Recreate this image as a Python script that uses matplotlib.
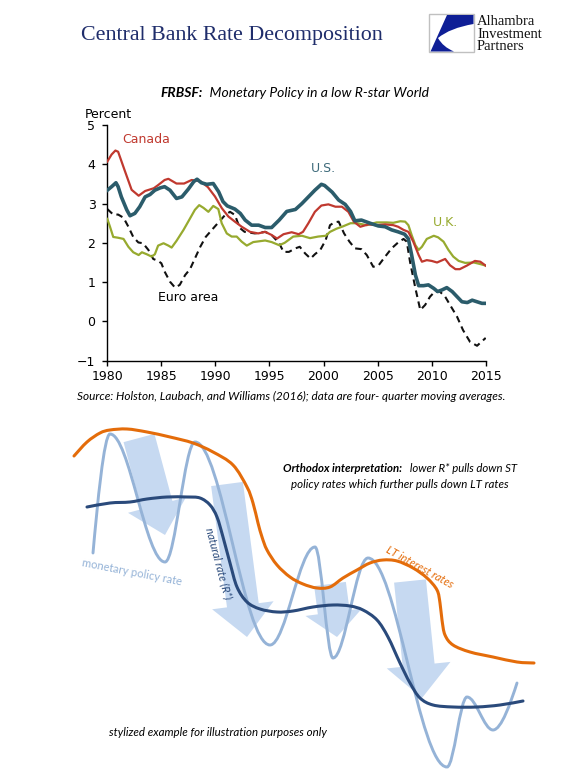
import matplotlib
matplotlib.use("Agg")
import matplotlib.pyplot as plt
from matplotlib.path import Path
from matplotlib.patches import PathPatch, FancyArrow, Rectangle
from matplotlib.offsetbox import TextArea, HPacker, AnnotationBbox

# ---------------- upper chart data (percent) ----------------
us_years = [1980.0, 1980.4, 1980.8, 1981.0, 1981.3, 1981.8, 1982.1, 1982.55, 1983.0, 1983.5,
            1983.95, 1984.4, 1984.9, 1985.3, 1985.8, 1986.4, 1986.9, 1987.5, 1988.0, 1988.3,
            1988.7, 1989.2, 1989.8, 1990.3, 1990.7, 1991.1, 1991.8, 1992.3, 1992.75, 1993.35,
            1994.0, 1994.6, 1995.2, 1995.9, 1996.6, 1997.4, 1998.0, 1998.6, 1999.2, 1999.8,
            2000.1, 2000.8, 2001.4, 2002.0, 2002.5, 2002.9, 2003.5, 2004.3, 2005.07, 2005.7,
            2006.3, 2006.9, 2007.5, 2007.85, 2008.15, 2008.5, 2008.8, 2009.25, 2009.7, 2010.2,
            2010.55, 2010.95, 2011.4, 2011.9, 2012.35, 2012.8, 2013.3, 2013.75, 2014.2, 2014.65,
            2015.0]
us_vals = [3.34, 3.43, 3.53, 3.43, 3.17, 2.84, 2.69, 2.75, 2.92, 3.17,
           3.23, 3.34, 3.40, 3.43, 3.34, 3.13, 3.17, 3.37, 3.56, 3.62,
           3.53, 3.49, 3.51, 3.30, 3.05, 2.94, 2.86, 2.75, 2.58, 2.45,
           2.45, 2.39, 2.39, 2.58, 2.80, 2.85, 3.00, 3.17, 3.34, 3.49,
           3.46, 3.29, 3.09, 2.98, 2.80, 2.56, 2.58, 2.50, 2.43, 2.41,
           2.33, 2.28, 2.22, 2.10, 1.69, 1.18, 0.91, 0.91, 0.93, 0.84,
           0.76, 0.80, 0.86, 0.76, 0.63, 0.50, 0.48, 0.54, 0.50, 0.46,
           0.46]

canada_years = [1980.0, 1980.4, 1980.75, 1981.0, 1981.6, 1982.25, 1982.9, 1983.5, 1984.3, 1984.7,
                1985.3, 1985.65, 1986.4, 1987.1, 1987.8, 1988.6, 1989.3, 1989.96, 1990.6, 1991.2,
                1991.8, 1992.43, 1993.2, 1993.95, 1994.6, 1995.2, 1995.7, 1996.3, 1997.05, 1997.7,
                1998.1, 1998.6, 1999.2, 1999.8, 2000.45, 2001.1, 2001.7, 2002.3, 2002.8, 2003.4,
                2004.15, 2004.9, 2005.7, 2006.45, 2006.9, 2007.4, 2007.85, 2008.3, 2008.8, 2009.1,
                2009.55, 2010.0, 2010.5, 2011.25, 2011.7, 2012.2, 2012.6, 2013.25, 2014.0, 2014.5,
                2015.0]
canada_vals = [4.07, 4.25, 4.35, 4.32, 3.85, 3.35, 3.20, 3.32, 3.39, 3.47,
               3.60, 3.63, 3.51, 3.51, 3.60, 3.57, 3.42, 3.18, 2.88, 2.67,
               2.54, 2.41, 2.28, 2.24, 2.28, 2.20, 2.11, 2.22, 2.27, 2.22,
               2.28, 2.50, 2.79, 2.95, 2.98, 2.92, 2.92, 2.79, 2.54, 2.41,
               2.47, 2.45, 2.47, 2.45, 2.41, 2.33, 2.28, 2.03, 1.69, 1.52,
               1.56, 1.54, 1.50, 1.59, 1.43, 1.33, 1.33, 1.42, 1.54, 1.52,
               1.42]

uk_years = [1980.0, 1980.25, 1980.55, 1981.0, 1981.5, 1981.95, 1982.4, 1982.9, 1983.2, 1983.65,
            1984.1, 1984.4, 1984.7, 1985.2, 1985.65, 1985.95, 1986.4, 1987.05, 1987.65, 1988.1,
            1988.5, 1988.9, 1989.35, 1989.8, 1990.27, 1990.58, 1991.05, 1991.5, 1991.97, 1992.43,
            1992.9, 1993.5, 1994.6, 1995.2, 1995.9, 1996.4, 1997.2, 1998.0, 1998.75, 1999.5,
            2000.2, 2000.6, 2001.2, 2001.8, 2002.5, 2003.1, 2004.0, 2004.9, 2005.85, 2006.45,
            2007.1, 2007.55, 2007.85, 2008.15, 2008.5, 2008.8, 2009.1, 2009.55, 2010.2, 2010.6,
            2011.1, 2011.55, 2012.0, 2012.5, 2013.1, 2013.9, 2014.5, 2015.0]
uk_vals = [2.61, 2.41, 2.15, 2.13, 2.10, 1.90, 1.76, 1.69, 1.76, 1.71,
           1.65, 1.71, 1.93, 1.99, 1.93, 1.88, 2.05, 2.33, 2.62, 2.84,
           2.96, 2.89, 2.79, 2.94, 2.86, 2.50, 2.24, 2.16, 2.16, 2.03,
           1.93, 2.02, 2.06, 2.02, 1.94, 2.00, 2.16, 2.18, 2.12, 2.16,
           2.18, 2.28, 2.36, 2.42, 2.50, 2.50, 2.45, 2.52, 2.52, 2.51,
           2.55, 2.54, 2.45, 2.20, 1.94, 1.82, 1.90, 2.10, 2.18, 2.14,
           2.03, 1.82, 1.65, 1.54, 1.49, 1.50, 1.46, 1.42]

euro_years = [1980.0, 1980.55, 1981.0, 1981.5, 1981.95, 1982.4, 1982.87, 1983.3, 1983.8, 1984.25,
              1984.7, 1985.0, 1985.3, 1985.8, 1986.27, 1986.7, 1987.2, 1987.65, 1988.1, 1988.6,
              1989.1, 1989.96, 1990.9, 1991.35, 1991.8, 1992.25, 1992.7, 1993.65, 1994.6, 1995.2,
              1995.9, 1996.3, 1996.8, 1997.4, 1997.8, 1998.3, 1998.8, 1999.2, 1999.7, 2000.2,
              2000.6, 2001.0, 2001.4, 2001.9, 2002.4, 2002.9, 2003.5, 2004.0, 2004.6, 2005.1,
              2005.7, 2006.3, 2006.9, 2007.4, 2007.7, 2008.0, 2008.5, 2008.95, 2009.4, 2009.85,
              2010.3, 2010.75, 2011.25, 2011.7, 2012.35, 2012.9, 2013.55, 2014.2, 2014.6, 2015.0]
euro_vals = [2.86, 2.72, 2.72, 2.64, 2.41, 2.15, 2.01, 1.99, 1.82, 1.59,
             1.54, 1.48, 1.27, 1.01, 0.86, 0.93, 1.18, 1.33, 1.60, 1.90,
             2.15, 2.42, 2.71, 2.79, 2.71, 2.38, 2.28, 2.24, 2.28, 2.20,
             1.99, 1.77, 1.77, 1.86, 1.90, 1.73, 1.60, 1.71, 1.82, 2.07,
             2.45, 2.52, 2.54, 2.24, 2.03, 1.86, 1.84, 1.69, 1.39, 1.43,
             1.65, 1.86, 2.01, 2.10, 2.03, 1.52, 0.84, 0.29, 0.42, 0.63,
             0.76, 0.76, 0.63, 0.42, 0.12, -0.22, -0.52, -0.62, -0.52, -0.42]

x_ticks = [1980, 1985, 1990, 1995, 2000, 2005, 2010, 2015]
y_ticks = [-1, 0, 1, 2, 3, 4, 5]

# ---------------- lower stylized illustration (canvas pixel units) ----------------
lt_x = [74, 87, 100, 110, 127, 147, 170, 193, 213, 233, 247, 253, 258, 262, 267, 277, 290, 303,
        317, 330, 343, 357, 370, 383, 397, 413, 427, 437, 440, 442, 445, 453, 470, 493, 517, 534]
lt_y = [456, 442, 433, 430, 429, 432, 437, 443, 452, 465, 487, 503, 523, 537, 550, 565, 577, 584,
        588, 587, 578, 570, 563, 560, 561, 568, 578, 590, 603, 620, 635, 645, 652, 657, 662, 663]

rstar_x = [87, 110, 130, 147, 167, 187, 200, 210, 217, 223, 230, 237, 247, 260, 277, 293, 313, 333,
           350, 363, 377, 388, 400, 410, 420, 433, 453, 477, 500, 523]
rstar_y = [507, 503, 502, 499, 497, 497, 498, 505, 517, 537, 563, 587, 602, 609, 612, 611, 607, 605,
           606, 610, 620, 637, 663, 683, 698, 705, 707, 707, 705, 701]

policy_x = [93, 110, 165, 195, 270, 315, 333, 368, 447, 467, 493, 517]
policy_y = [553, 434, 562, 442, 645, 547, 658, 558, 767, 697, 730, 683]

arrow_x0 = [139, 227, 330, 410]
arrow_y0 = [438, 484, 584, 581]
arrow_x1 = [165, 247, 337, 422]
arrow_y1 = [535, 637, 637, 698]
arrow_head_len = [31, 32, 25, 33]
arrow_head_wid = [60, 62, 57, 64]

# ---------------- colours ----------------
C_US = "#2b5c6b"
C_CA = "#c0392f"
C_UK = "#97aa2f"
C_EU = "#111111"
C_LT = "#e46c0a"
C_RS = "#2a4a7b"
C_MP = "#95b3d7"
C_AR = "#c6d9f1"
C_TITLE = "#1f2d6b"

SANS_IT = ["Lato", "DejaVu Sans"]

fig = plt.figure(figsize=(5.77, 7.81), dpi=100)
fig.patch.set_facecolor("white")

# overlay canvas for illustration and free text
ov = fig.add_axes([0, 0, 1, 1], zorder=0)
ov.set_xlim(0, 577)
ov.set_ylim(781, 0)
ov.axis("off")

# ---------------- upper chart ----------------
ax = fig.add_axes([107.3 / 577, 1 - 360.7 / 781, (485.7 - 107.3) / 577, (360.7 - 125) / 781], zorder=2)
ax.set_facecolor("none")
ax.plot(euro_years, euro_vals, color=C_EU, lw=1.5, ls=(0, (3.2, 2.2)), zorder=2)
ax.plot(uk_years, uk_vals, color=C_UK, lw=1.6, zorder=3)
ax.plot(canada_years, canada_vals, color=C_CA, lw=1.6, zorder=4)
ax.plot(us_years, us_vals, color=C_US, lw=2.6, zorder=5)
ax.set_xlim(1980, 2015)
ax.set_ylim(-1, 5)
ax.set_xticks(x_ticks)
ax.set_yticks(y_ticks)
for s in ["top", "right"]:
    ax.spines[s].set_visible(False)
for s in ["left", "bottom"]:
    ax.spines[s].set_linewidth(1.0)
ax.tick_params(axis="both", direction="out", length=3.5, width=1.0, labelsize=9, pad=3.5,
               colors="#000000")
ax.tick_params(axis="y", pad=5)

ax.text(1981.36, 4.62, "Canada", color=C_CA, fontsize=9, ha="left", va="center")
ax.text(1999.95, 3.88, "U.S.", color="#3d6a7a", fontsize=9, ha="center", va="center")
ax.text(2011.24, 2.53, "U.K.", color=C_UK, fontsize=9, ha="center", va="center")
ax.text(1987.5, 0.62, "Euro area", color="#000000", fontsize=9, ha="center", va="center")

fig.text(85 / 577, 1 - 114 / 781, "Percent", fontsize=9, ha="left", va="center")

# ---------------- title / logo ----------------
ov.text(81, 40, "Central Bank Rate Decomposition", family="Liberation Serif", fontsize=15.8,
        color=C_TITLE, ha="left", va="baseline")

ov.add_patch(Rectangle((429, 14), 45, 38, fill=False, edgecolor="#c0c0c0", lw=1.0))
logo_verts = [(447, 15), (473.5, 15), (473.5, 24), (450, 28), (438, 38), (443, 47), (454, 51.5),
              (430.5, 51.5), (447, 15)]
logo_codes = [Path.MOVETO, Path.LINETO, Path.LINETO, Path.CURVE3, Path.CURVE3, Path.CURVE3,
              Path.CURVE3, Path.LINETO, Path.CLOSEPOLY]
ov.add_patch(PathPatch(Path(logo_verts, logo_codes), facecolor="#0f1f96", edgecolor="none"))
for txt, yy in [("Alhambra", 25), ("Investment", 37.5), ("Partners", 50)]:
    ov.text(477, yy, txt, family="Liberation Serif", fontsize=10.5, color="#111111",
            ha="left", va="baseline")


def mixed_line(parts, x, y, size):
    boxes = []
    for txt, bold in parts:
        boxes.append(TextArea(txt, textprops=dict(family=SANS_IT, style="italic",
                                                  fontweight="bold" if bold else "normal",
                                                  fontsize=size, color="#000000")))
    pack = HPacker(children=boxes, align="baseline", pad=0, sep=0)
    ab = AnnotationBbox(pack, (x, y), xycoords="data", frameon=False, box_alignment=(0.5, 0.5),
                        pad=0)
    ov.add_artist(ab)


mixed_line([("FRBSF:", True), ("  Monetary Policy in a low R-star World", False)], 294.5, 93, 10)
ov.text(291.5, 396, "Source: Holston, Laubach, and Williams (2016); data are four- quarter moving averages.",
        family=SANS_IT, style="italic", fontsize=8.5, ha="center", va="center")

# ---------------- lower illustration ----------------
for x0, y0, x1, y1, hl, hw in zip(arrow_x0, arrow_y0, arrow_x1, arrow_y1, arrow_head_len, arrow_head_wid):
    ov.add_patch(FancyArrow(x0, y0, x1 - x0, y1 - y0, width=32, head_width=hw, head_length=hl,
                            length_includes_head=True, facecolor=C_AR, edgecolor="none", zorder=1))


def smooth_path(xs, ys):
    pts = list(zip(xs, ys))
    n = len(pts)
    verts = [pts[0]]
    codes = [Path.MOVETO]
    for i in range(n - 1):
        p0 = pts[i - 1] if i > 0 else pts[i]
        p1 = pts[i]
        p2 = pts[i + 1]
        p3 = pts[i + 2] if i + 2 < n else pts[i + 1]
        c1 = (p1[0] + (p2[0] - p0[0]) / 6.0, p1[1] + (p2[1] - p0[1]) / 6.0)
        c2 = (p2[0] - (p3[0] - p1[0]) / 6.0, p2[1] - (p3[1] - p1[1]) / 6.0)
        verts += [c1, c2, p2]
        codes += [Path.CURVE4] * 3
    return Path(verts, codes)


def wave_path(xs, ys, k=0.35):
    n = len(xs)
    verts = [(xs[0], ys[0])]
    codes = [Path.MOVETO]
    for i in range(n - 1):
        x0, y0, x1, y1 = xs[i], ys[i], xs[i + 1], ys[i + 1]
        dx, dy = x1 - x0, y1 - y0
        c1 = (x0 + 0.25 * dx, y0 + 0.4 * dy) if i == 0 else (x0 + k * dx, y0)
        c2 = (x1 - 0.25 * dx, y1 - 0.4 * dy) if i == n - 2 else (x1 - k * dx, y1)
        verts += [c1, c2, (x1, y1)]
        codes += [Path.CURVE4] * 3
    return Path(verts, codes)


ov.add_patch(PathPatch(wave_path(policy_x, policy_y), facecolor="none", edgecolor=C_MP, lw=2.1,
                       capstyle="round", zorder=2))
ov.add_patch(PathPatch(smooth_path(rstar_x, rstar_y), facecolor="none", edgecolor=C_RS, lw=2.2,
                       capstyle="round", zorder=3))
ov.add_patch(PathPatch(smooth_path(lt_x, lt_y), facecolor="none", edgecolor=C_LT, lw=2.2,
                       capstyle="round", zorder=4))

ov.text(132, 572, "monetary policy rate", family=SANS_IT, fontsize=8, color=C_MP,
        rotation=-11, ha="center", va="center", rotation_mode="anchor")
ov.text(219, 563, "natural rate (R*)", family=SANS_IT, style="italic", fontsize=8, color=C_RS,
        rotation=-75, ha="center", va="center", rotation_mode="anchor")
ov.text(420, 567, "LT interest rates", family=SANS_IT, style="italic", fontsize=8, color=C_LT,
        rotation=-29, ha="center", va="center", rotation_mode="anchor")

mixed_line([("Orthodox interpretation:", True), ("   lower R* pulls down ST", False)], 400, 469, 8.2)
ov.text(400, 484, "policy rates which further pulls down LT rates", family=SANS_IT, style="italic",
        fontsize=8.3, ha="center", va="center")
ov.text(218, 732, "stylized example for illustration purposes only", family=SANS_IT,
        style="italic", fontsize=8.3, ha="center", va="center")

fig.savefig("out.png", dpi=100, facecolor="white")
